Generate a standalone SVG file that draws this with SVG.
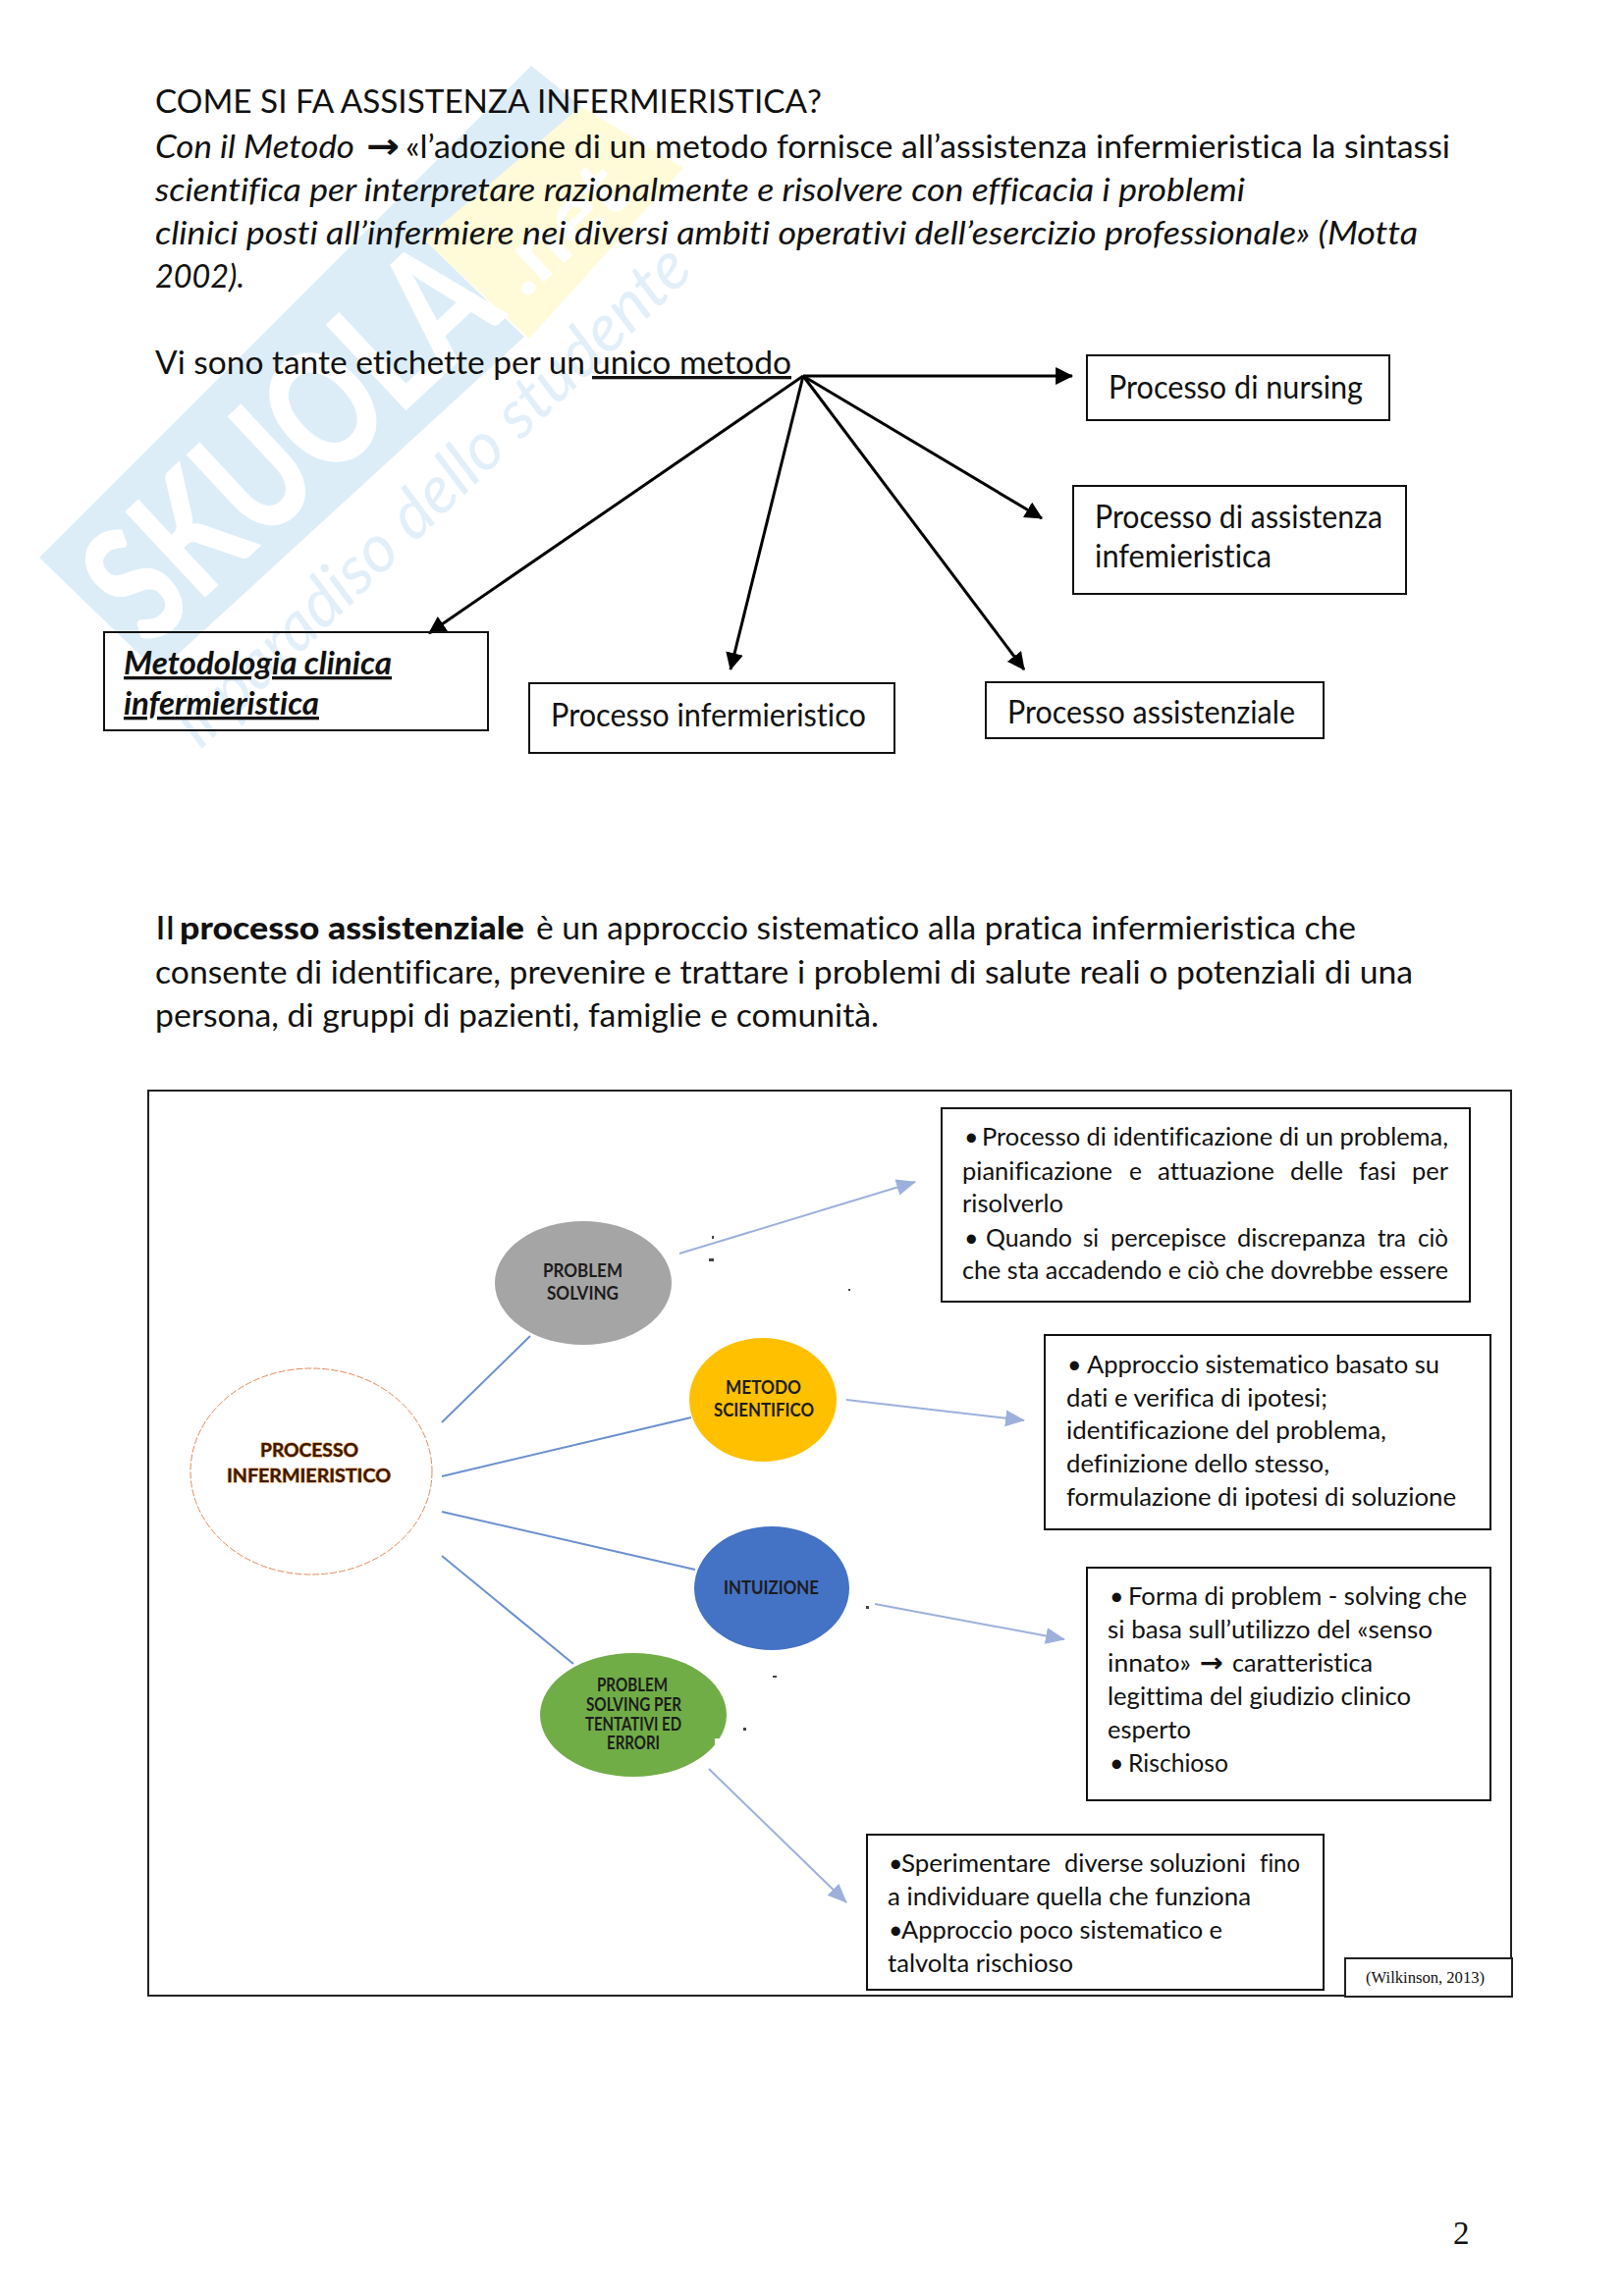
<svg xmlns="http://www.w3.org/2000/svg" width="1654" height="2339" viewBox="0 0 1654 2339">
<style>
text{font-family:"Lato","Carlito","Liberation Sans",sans-serif;fill:#111;font-variant-ligatures:none}
.h{font-size:33px}
.i{font-style:italic}
.u{text-decoration:underline}
.s{font-family:"DejaVu Sans",sans-serif}
.b{font-size:25px}
.n{font-size:18px;font-weight:700;fill:#1c1c1c}
.box{fill:#fff;stroke:#111;stroke-width:2}
.k{stroke:#000;stroke-width:3;fill:none;marker-end:url(#ak)}
.l{stroke:#9DB0DC;stroke-width:2;fill:none;marker-end:url(#al)}
.m{stroke:#6C90CE;stroke-width:2;fill:none}
.wm{fill:#fff;font-weight:900}
.tag{fill:#E2EFF9;font-style:italic;font-size:68px}
</style>
<defs>
<marker id="ak" markerUnits="userSpaceOnUse" markerWidth="18" markerHeight="18" refX="15" refY="8" orient="auto" viewBox="0 0 16 16"><path d="M0,0L16,8L0,16z" fill="#000"/></marker>
<marker id="al" markerUnits="userSpaceOnUse" markerWidth="20" markerHeight="18" refX="18" refY="8" orient="auto" viewBox="0 0 19 16"><path d="M0,0L19,8L0,16z" fill="#9DB0DC"/></marker>
</defs>
<rect width="1654" height="2339" fill="#fff"/>
<g id="watermark">
<polygon points="591,108 696,171 539,345 432,244" fill="#FFFBD8"/>
<polygon points="40,568 541,67 592,108 432,244 534,343 161,685" fill="#DCEDF8"/>
<text class="wm" font-size="165" transform="translate(152,662) rotate(-43)" textLength="500" lengthAdjust="spacingAndGlyphs">SKUOLA</text>
<text class="wm" font-size="85" transform="translate(535,305) rotate(-43)" textLength="150" lengthAdjust="spacingAndGlyphs">.net</text>
<text class="tag" transform="translate(204,764) rotate(-44)" textLength="700" lengthAdjust="spacingAndGlyphs">il paradiso dello studente</text>
</g>
<g id="heading">
<text class="h" x="158" y="115" textLength="679" lengthAdjust="spacingAndGlyphs">COME SI FA ASSISTENZA INFERMIERISTICA?</text>
<text class="h i" x="158" y="161" textLength="203" lengthAdjust="spacingAndGlyphs">Con il Metodo</text>
<text class="s" font-size="36" font-weight="700" x="373" y="161" textLength="34" lengthAdjust="spacingAndGlyphs">→</text>
<text class="h" x="413" y="161" textLength="1064" lengthAdjust="spacingAndGlyphs">«l’adozione di un metodo fornisce all’assistenza infermieristica la sintassi</text>
<text class="h i" x="158" y="205" textLength="1110" lengthAdjust="spacingAndGlyphs">scientifica per interpretare razionalmente e risolvere con efficacia i problemi</text>
<text class="h i" x="158" y="249" textLength="1286" lengthAdjust="spacingAndGlyphs">clinici posti all’infermiere nei diversi ambiti operativi dell’esercizio professionale» (Motta</text>
<text class="h i" x="158" y="293" textLength="91" lengthAdjust="spacingAndGlyphs">2002).</text>
<text class="h" x="158" y="381" textLength="438" lengthAdjust="spacingAndGlyphs">Vi sono tante etichette per un</text>
<text class="h u" x="603" y="381" textLength="203" lengthAdjust="spacingAndGlyphs">unico metodo</text>
</g>
<g id="top-connectors">
<line class="k" x1="818" y1="383" x2="1092" y2="383"/>
<line class="k" x1="818" y1="383" x2="1061" y2="528"/>
<line class="k" x1="818" y1="383" x2="1043" y2="682"/>
<line class="k" x1="818" y1="383" x2="744" y2="682"/>
<line class="k" x1="818" y1="383" x2="437" y2="645"/>
</g>
<g id="box-nursing"><rect class="box" x="1107" y="362" width="308" height="66"/>
<text class="h" x="1129" y="406" textLength="259" lengthAdjust="spacingAndGlyphs">Processo di nursing</text></g>
<g id="box-assistenza"><rect class="box" x="1093" y="495" width="339" height="110"/>
<text class="h" x="1115" y="538" textLength="293" lengthAdjust="spacingAndGlyphs">Processo di assistenza</text>
<text class="h" x="1115" y="578" textLength="180" lengthAdjust="spacingAndGlyphs">infemieristica</text></g>
<g id="box-assistenziale"><rect class="box" x="1004" y="695" width="344" height="57"/>
<text class="h" x="1026" y="737" textLength="293" lengthAdjust="spacingAndGlyphs">Processo assistenziale</text></g>
<g id="box-infermieristico"><rect class="box" x="539" y="696" width="372" height="71"/>
<text class="h" x="561" y="740" textLength="321" lengthAdjust="spacingAndGlyphs">Processo infermieristico</text></g>
<g id="box-metodologia"><rect x="106" y="644" width="391" height="100" fill="none" stroke="#111" stroke-width="2"/>
<text class="h i u" font-weight="700" x="126" y="687" textLength="273" lengthAdjust="spacingAndGlyphs">Metodologia clinica</text>
<text class="h i u" font-weight="700" x="126" y="728" textLength="199" lengthAdjust="spacingAndGlyphs">infermieristica</text></g>
<g id="paragraph">
<text class="h" x="158" y="957" textLength="20" lengthAdjust="spacingAndGlyphs">Il</text>
<text class="h" font-weight="900" x="183" y="957" textLength="351" lengthAdjust="spacingAndGlyphs">processo assistenziale</text>
<text class="h" x="546" y="957" textLength="835" lengthAdjust="spacingAndGlyphs">è un approccio sistematico alla pratica infermieristica che</text>
<text class="h" x="158" y="1002" textLength="1281" lengthAdjust="spacingAndGlyphs">consente di identificare, prevenire e trattare i problemi di salute reali o potenziali di una</text>
<text class="h" x="158" y="1046" textLength="737" lengthAdjust="spacingAndGlyphs">persona, di gruppi di pazienti, famiglie e comunità.</text>
</g>
<rect id="frame" x="151" y="1111" width="1388" height="922" fill="none" stroke="#222" stroke-width="2"/>
<g id="connectors">
<line class="m" x1="540" y1="1361" x2="450" y2="1449"/>
<line class="m" x1="704" y1="1444" x2="450" y2="1504"/>
<line class="m" x1="450" y1="1540" x2="708" y2="1599"/>
<line class="m" x1="450" y1="1585" x2="584" y2="1695"/>
<line class="l" x1="692" y1="1277" x2="932" y2="1204"/>
<line class="l" x1="862" y1="1426" x2="1043" y2="1447"/>
<line class="l" x1="891" y1="1634" x2="1084" y2="1670"/>
<line class="l" x1="722" y1="1802" x2="862" y2="1938"/>
</g>
<g id="node-processo"><ellipse cx="317" cy="1499" rx="123" ry="105" fill="#fff" stroke="#E08A5C" stroke-width="1" stroke-dasharray="7 2"/>
<text x="265" y="1484" font-size="19" font-weight="700" style="fill:#3a1a05;paint-order:stroke;stroke:#E0862F;stroke-width:1" textLength="100" lengthAdjust="spacingAndGlyphs">PROCESSO</text>
<text x="231" y="1510" font-size="19" font-weight="700" style="fill:#3a1a05;paint-order:stroke;stroke:#E0862F;stroke-width:1" textLength="167" lengthAdjust="spacingAndGlyphs">INFERMIERISTICO</text></g>
<g id="node-problem-solving"><ellipse cx="594" cy="1307" rx="90" ry="63" fill="#A5A5A5"/>
<text class="n" x="553" y="1301" textLength="81" lengthAdjust="spacingAndGlyphs">PROBLEM</text>
<text class="n" x="557" y="1324" textLength="73" lengthAdjust="spacingAndGlyphs">SOLVING</text></g>
<g id="node-metodo"><ellipse cx="777" cy="1426" rx="75" ry="63" fill="#FFC000"/>
<text class="n" x="739" y="1420" textLength="77" lengthAdjust="spacingAndGlyphs">METODO</text>
<text class="n" x="727" y="1443" textLength="102" lengthAdjust="spacingAndGlyphs">SCIENTIFICO</text></g>
<g id="node-intuizione"><ellipse cx="786" cy="1618" rx="79" ry="63" fill="#4472C4"/>
<text class="n" x="737" y="1624" textLength="97" lengthAdjust="spacingAndGlyphs">INTUIZIONE</text></g>
<g id="node-tentativi"><ellipse cx="645" cy="1747" rx="95" ry="63" fill="#70AD47"/>
<rect x="728" y="1771" width="14" height="14" fill="#fff"/>
<text class="n" font-size="17" x="608" y="1723" textLength="72" lengthAdjust="spacingAndGlyphs">PROBLEM</text>
<text class="n" x="597" y="1743" textLength="97" lengthAdjust="spacingAndGlyphs">SOLVING PER</text>
<text class="n" x="596" y="1763" textLength="98" lengthAdjust="spacingAndGlyphs">TENTATIVI ED</text>
<text class="n" x="618" y="1782" textLength="54" lengthAdjust="spacingAndGlyphs">ERRORI</text></g>
<path id="specks" d="M882,1636h3v3h-3zM757,1760h3v3h-3zM787,1707h4v2h-4zM864,1313h2v2h-2zM725,1259h2v3h-2zM722,1282h5v3h-5z" fill="#444"/>
<g id="box-1"><rect class="box" x="959" y="1129" width="538" height="197"/>
<text class="b" x="982" y="1167">•</text>
<text class="b" x="1000" y="1167" textLength="475" lengthAdjust="spacingAndGlyphs">Processo di identificazione di un problema,</text>
<text class="b" x="980" y="1202" textLength="153" lengthAdjust="spacingAndGlyphs">pianificazione</text>
<text class="b" x="1150" y="1202" textLength="13" lengthAdjust="spacingAndGlyphs">e</text>
<text class="b" x="1179" y="1202" textLength="119" lengthAdjust="spacingAndGlyphs">attuazione</text>
<text class="b" x="1314" y="1202" textLength="54" lengthAdjust="spacingAndGlyphs">delle</text>
<text class="b" x="1384" y="1202" textLength="38" lengthAdjust="spacingAndGlyphs">fasi</text>
<text class="b" x="1438" y="1202" textLength="37" lengthAdjust="spacingAndGlyphs">per</text>
<text class="b" x="980" y="1235" textLength="103" lengthAdjust="spacingAndGlyphs">risolverlo</text>
<text class="b" x="982" y="1270">•</text>
<text class="b" x="1004" y="1270" textLength="88" lengthAdjust="spacingAndGlyphs">Quando</text>
<text class="b" x="1103" y="1270" textLength="16" lengthAdjust="spacingAndGlyphs">si</text>
<text class="b" x="1131" y="1270" textLength="118" lengthAdjust="spacingAndGlyphs">percepisce</text>
<text class="b" x="1260" y="1270" textLength="131" lengthAdjust="spacingAndGlyphs">discrepanza</text>
<text class="b" x="1403" y="1270" textLength="29" lengthAdjust="spacingAndGlyphs">tra</text>
<text class="b" x="1444" y="1270" textLength="31" lengthAdjust="spacingAndGlyphs">ciò</text>
<text class="b" x="980" y="1303" textLength="495" lengthAdjust="spacingAndGlyphs">che sta accadendo e ciò che dovrebbe essere</text></g>
<g id="box-2"><rect class="box" x="1064" y="1360" width="454" height="198"/>
<text class="b" x="1087" y="1399">•</text>
<text class="b" x="1107" y="1399" textLength="359" lengthAdjust="spacingAndGlyphs">Approccio sistematico basato su</text>
<text class="b" x="1086" y="1433" textLength="266" lengthAdjust="spacingAndGlyphs">dati e verifica di ipotesi;</text>
<text class="b" x="1086" y="1466" textLength="326" lengthAdjust="spacingAndGlyphs">identificazione del problema,</text>
<text class="b" x="1086" y="1500" textLength="268" lengthAdjust="spacingAndGlyphs">definizione dello stesso,</text>
<text class="b" x="1086" y="1534" textLength="397" lengthAdjust="spacingAndGlyphs">formulazione di ipotesi di soluzione</text></g>
<g id="box-3"><rect class="box" x="1107" y="1597" width="411" height="237"/>
<text class="b" x="1130" y="1635">•</text>
<text class="b" x="1149" y="1635" textLength="345" lengthAdjust="spacingAndGlyphs">Forma di problem - solving che</text>
<text class="b" x="1128" y="1669" textLength="331" lengthAdjust="spacingAndGlyphs">si basa sull’utilizzo del «senso</text>
<text class="b" x="1128" y="1703" textLength="85" lengthAdjust="spacingAndGlyphs">innato»</text>
<text class="s" font-size="27" font-weight="700" x="1222" y="1703" textLength="24" lengthAdjust="spacingAndGlyphs">→</text>
<text class="b" x="1255" y="1703" textLength="143" lengthAdjust="spacingAndGlyphs">caratteristica</text>
<text class="b" x="1128" y="1737" textLength="309" lengthAdjust="spacingAndGlyphs">legittima del giudizio clinico</text>
<text class="b" x="1128" y="1771" textLength="85" lengthAdjust="spacingAndGlyphs">esperto</text>
<text class="b" x="1130" y="1805">•</text>
<text class="b" x="1149" y="1805" textLength="102" lengthAdjust="spacingAndGlyphs">Rischioso</text></g>
<g id="box-4"><rect class="box" x="883" y="1869" width="465" height="158"/>
<text class="b" x="905" y="1907">•</text>
<text class="b" x="918" y="1907" textLength="152" lengthAdjust="spacingAndGlyphs">Sperimentare</text>
<text class="b" x="1084" y="1907" textLength="185" lengthAdjust="spacingAndGlyphs">diverse soluzioni</text>
<text class="b" x="1283" y="1907" textLength="41" lengthAdjust="spacingAndGlyphs">fino</text>
<text class="b" x="904" y="1941" textLength="370" lengthAdjust="spacingAndGlyphs">a individuare quella che funziona</text>
<text class="b" x="905" y="1975">•</text>
<text class="b" x="918" y="1975" textLength="327" lengthAdjust="spacingAndGlyphs">Approccio poco sistematico e</text>
<text class="b" x="904" y="2009" textLength="189" lengthAdjust="spacingAndGlyphs">talvolta rischioso</text></g>
<g id="citation"><rect x="1370" y="1995" width="170" height="39" fill="#fff" stroke="#222" stroke-width="2"/>
<text x="1391" y="2020" font-size="16" style="font-family:'Liberation Serif',serif" textLength="121" lengthAdjust="spacingAndGlyphs">(Wilkinson, 2013)</text></g>
<text id="page-number" x="1480" y="2286" font-size="33" style="font-family:'Liberation Serif',serif">2</text>
</svg>
